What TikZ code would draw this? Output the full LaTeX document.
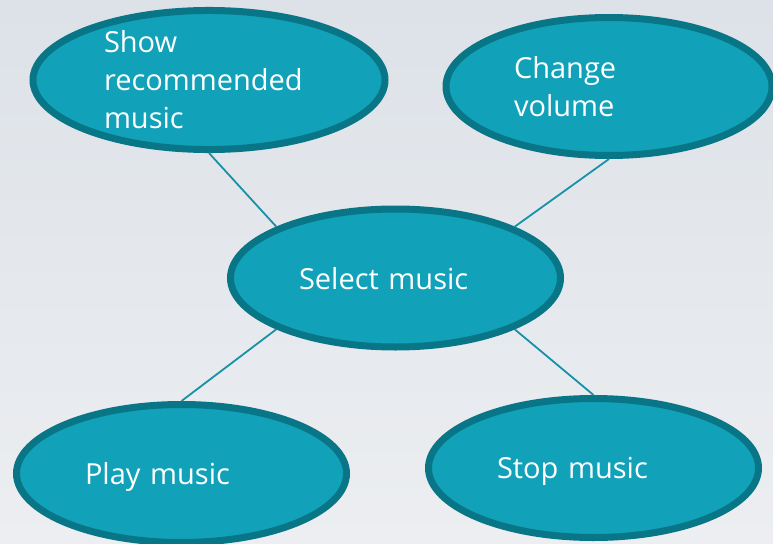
\documentclass[tikz,border=0pt]{standalone}
\usepackage{fontspec}
\setmainfont{Open Sans}
\usepackage{tikz}
\usetikzlibrary{%
  shapes.geometric%
}
\definecolor{ucfill}{RGB}{17,162,186}
\definecolor{ucedge}{RGB}{9,118,135}
\definecolor{uclink}{RGB}{22,145,168}
\definecolor{bgtop}{RGB}{221,226,232}
\definecolor{bgbot}{RGB}{236,238,241}
\tikzset{>=latex, usecase/.style = {ellipse, draw=ucedge, fill=ucfill,
    line width=7pt, text=white, align=left, text width=193pt,
    minimum width=330pt, minimum height=138pt, inner sep=0pt,
    font=\fontsize{29}{38}\selectfont},%
    oneline/.style={usecase, text depth=0pt},%
    link/.style={draw=uclink, line width=1.8pt}}

\begin{document}
\begin{tikzpicture}[x=1pt,y=-1pt]
          \fill[top color=bgtop,bottom color=bgbot] (0,0) rectangle (773,543);
          \useasboundingbox (0,0) rectangle (773,543);
          \node[usecase,minimum width=352pt,minimum height=139pt,text width=210pt]
          (recmusic) at (209,80) {Show\\recommended\\music};
          \node[usecase,minimum width=326pt,text width=190pt]
          (volume) at (609,86.5) {Change\\volume};
          \node[oneline] (select) at (395.5,278) {Select music};
          \node[oneline] (play) at (181.5,473.5) {Play music};
          \node[oneline,minimum height=139pt] (stop) at (593.5,468) {Stop music};
          \draw[link] (select.north west) -- (recmusic.south);
          \draw[link] (select.north east) -- (volume.south);
          \draw[link] (select.south west) -- (play.north);
          \draw[link] (select.south east) -- (stop.north);
        \end{tikzpicture}
\end{document}
